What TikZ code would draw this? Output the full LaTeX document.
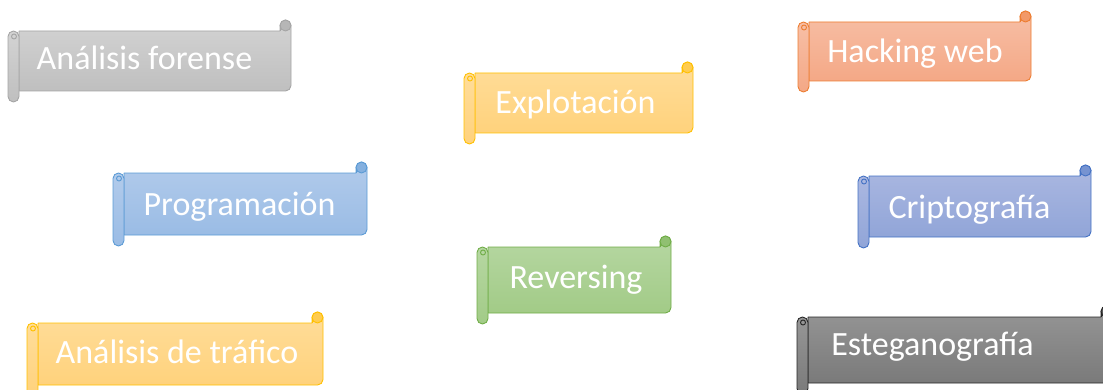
\documentclass[tikz,border=0pt]{standalone}
\usepackage{fontspec}
\setmainfont{Carlito}

\definecolor{grisT}{HTML}{D3D3D3}
\definecolor{grisB}{HTML}{BFBFBF}
\definecolor{grisL}{HTML}{A5A5A5}
\definecolor{oroT}{HTML}{FFDD9A}
\definecolor{oroB}{HTML}{FFD27C}
\definecolor{oroL}{HTML}{FFC000}
\definecolor{naranjaT}{HTML}{F7BFA6}
\definecolor{naranjaB}{HTML}{F4A886}
\definecolor{naranjaL}{HTML}{ED7D31}
\definecolor{azulT}{HTML}{B2CBEB}
\definecolor{azulB}{HTML}{9ABCE5}
\definecolor{azulL}{HTML}{5B9BD5}
\definecolor{indigoT}{HTML}{ABB8E1}
\definecolor{indigoB}{HTML}{91A5D8}
\definecolor{indigoL}{HTML}{4472C4}
\definecolor{verdeT}{HTML}{B6D7A2}
\definecolor{verdeB}{HTML}{A2CB87}
\definecolor{verdeL}{HTML}{70AD47}
\definecolor{oscuroT}{HTML}{969696}
\definecolor{oscuroB}{HTML}{7A7A7A}
\definecolor{oscuroL}{HTML}{262626}

\tikzset{
  scrollshape/.style={top color=#1T, bottom color=#1B, draw=#1L,
    line width=0.9pt, line join=round},
  scrollcurl/.style={fill=#1L!35!#1B, draw=#1L, line width=0.9pt},
  scrollline/.style={draw=#1L, line width=0.9pt},
  scrolltext/.style={text=white, anchor=base,
    font=\fontsize{34}{40}\selectfont}
}

\newcommand{\rr}{5.5}
\newcommand{\rd}{11}
% colour, left, right, top, bottom (pixels from the top edge)
\newcommand{\scrollbanner}[5]{%
  \pgfmathsetmacro\sT{389-#4}%
  \pgfmathsetmacro\sB{389-#5}%
  \path[scrollshape=#1] (#2+\rd,\sT) -- (#3-\rd,\sT) -- (#3-\rd,\sT+\rr)
    arc[start angle=180, end angle=0, radius=\rr pt] -- (#3,\sB+\rr)
    arc[start angle=0, end angle=-90, radius=\rr pt] -- (#2+\rd,\sB) -- cycle;
  \draw[scrollcurl=#1] (#3-\rr,\sT+\rr) circle[radius=\rr pt];
  \draw[scrollline=#1] (#3-\rd,\sT) -- (#3-\rd,\sT+\rr);
  \path[scrollshape=#1] (#2,\sT-\rr)
    arc[start angle=180, end angle=0, radius=\rr pt] -- (#2+\rd,\sB-\rr)
    arc[start angle=0, end angle=-180, radius=\rr pt] -- cycle;
  \draw[scrollline=#1] (#2+\rr+0.5,\sT-\rr) circle[radius=2.5pt];
}

\begin{document}
\begin{tikzpicture}[x=1pt, y=1pt]
  \clip (0,0) rectangle (1103,389);

  % banners
  \scrollbanner{gris}{8}{291}{31}{91}
  \scrollbanner{oro}{464}{693}{73}{133}
  \scrollbanner{naranja}{798}{1031}{22}{81}
  \scrollbanner{azul}{113}{367}{173}{235}
  \scrollbanner{indigo}{858}{1091}{176}{237}
  \scrollbanner{verde}{477}{671}{247}{313}
  \scrollbanner{oro}{27}{323}{323}{385}
  \scrollbanner{oscuro}{797}{1112}{317}{383}

  % labels
  \node[scrolltext] (forense)  at (144.5, 389-70)  {Análisis forense};
  \node[scrolltext] (explot)   at (575.5, 389-114) {Explotación};
  \node[scrolltext] (hacking)  at (915,   389-63)  {Hacking web};
  \node[scrolltext] (program)  at (239.5, 389-215) {Programación};
  \node[scrolltext] (cripto)   at (969.5, 389-218) {Criptografía};
  \node[scrolltext] (revers)   at (576,   389-288) {Reversing};
  \node[scrolltext] (trafico)  at (177,   389-363) {Análisis de tráfico};
  \node[scrolltext] (estega)   at (932.5, 389-355) {Esteganografía};
\end{tikzpicture}
\end{document}
